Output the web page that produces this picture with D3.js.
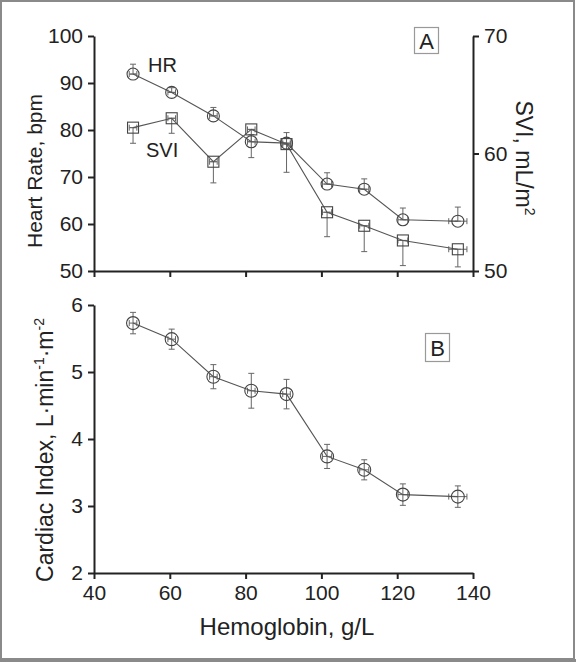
<!DOCTYPE html>
<html><head><meta charset="utf-8">
<script src="https://cdn.jsdelivr.net/npm/d3@7"></script>
<style>
html,body{margin:0;padding:0;background:#fff;}
svg{display:block;}
text{font-family:"Liberation Sans",Arial,Helvetica,sans-serif;fill:#222;}
</style></head>
<body>
<script>
// ---- data ----
const hemoglobin = [50.3, 60.5, 71.5, 81.5, 90.8, 101.5, 111.3, 121.5, 136];
const hemoglobinErr = [1, 1, 1, 1, 1, 1.2, 1.2, 1.3, 2.4];
const heartRate = [91.9, 88.0, 83.0, 77.5, 77.2, 68.5, 67.4, 60.9, 60.6];
const heartRateErr = [2.1, 1.0, 1.8, 1.5, 2.25, 2.4, 2.2, 2.5, 3.0];
const svi = [62.2, 63.0, 59.3, 62.05, 60.8, 55.0, 53.85, 52.6, 51.85];
const sviErr = [1.33, 1.28, 1.8, 2.4, 2.4, 2.08, 2.2, 2.14, 1.5];
const cardiacIndex = [5.73, 5.49, 4.93, 4.72, 4.67, 3.74, 3.54, 3.17, 3.14];
const cardiacIndexErr = [0.16, 0.15, 0.18, 0.26, 0.22, 0.18, 0.15, 0.16, 0.16];
const xTicks = [40, 60, 80, 100, 120, 140];
const hrTicks = [50, 60, 70, 80, 90, 100];
const sviTicks = [50, 60, 70];
const ciTicks = [2, 3, 4, 5, 6];

const W = 576, H = 662;
const svg = d3.select("body").append("svg").attr("width", W).attr("height", H);

// frame
svg.append("rect").attr("x",1).attr("y",1).attr("width",573).attr("height",658)
  .attr("fill","none").attr("stroke","#8a8a8a").attr("stroke-width",2);
svg.append("line").attr("x1",0).attr("x2",576).attr("y1",660.5).attr("y2",660.5)
  .attr("stroke","#8a8a8a").attr("stroke-width",3);

const x = d3.scaleLinear().domain([40,140]).range([94,473]);
const yHR = d3.scaleLinear().domain([50,100]).range([271,36]);
const ySVI = d3.scaleLinear().domain([50,70]).range([271,36]);
const yCI = d3.scaleLinear().domain([2,6]).range([573,305]);
const fmt = d3.format("d");

function styleAxis(g, fs){
  g.select(".domain").attr("stroke","#222").attr("stroke-width",2);
  g.selectAll(".tick line").attr("stroke","#222").attr("stroke-width",2);
  g.selectAll(".tick text").attr("font-size",fs).attr("fill","#222")
    .attr("font-family","'Liberation Sans',Arial,sans-serif");
}

// ---- Panel A axes ----
const gA = svg.append("g");
gA.append("g").attr("transform","translate(94,0)")
  .call(d3.axisLeft(yHR).tickValues(hrTicks).tickFormat(fmt).tickSize(6).tickPadding(5).tickSizeOuter(0))
  .call(g=>styleAxis(g,21));
gA.append("g").attr("transform","translate(473,0)")
  .call(d3.axisRight(ySVI).tickValues(sviTicks).tickFormat(fmt).tickSize(6).tickPadding(5).tickSizeOuter(0))
  .call(g=>styleAxis(g,21));
gA.append("g").attr("transform","translate(0,271)")
  .call(d3.axisBottom(x).tickValues(xTicks).tickSize(6).tickFormat("").tickSizeOuter(0))
  .call(g=>styleAxis(g,21));

// ---- Panel B axes ----
const gB = svg.append("g");
gB.append("g").attr("transform","translate(94,0)")
  .call(d3.axisLeft(yCI).tickValues(ciTicks).tickFormat(fmt).tickSize(6).tickPadding(5).tickSizeOuter(0))
  .call(g=>styleAxis(g,21));
gB.append("g").attr("transform","translate(0,573)")
  .call(d3.axisBottom(x).tickValues(xTicks).tickFormat(fmt).tickSize(6).tickPadding(6).tickSizeOuter(0))
  .call(g=>styleAxis(g,21));

// ---- helpers ----
const lineColor = "#555", markColor = "#444", errColor = "#666";
const idx = d3.range(hemoglobin.length);

function errV(g, xs, y, lo, hi, cap){
  idx.forEach(i=>{
    const cx = x(xs[i]);
    const y1 = y(lo[i]), y2 = y(hi[i]);
    g.append("line").attr("x1",cx).attr("x2",cx).attr("y1",y1).attr("y2",y2)
      .attr("stroke",errColor).attr("stroke-width",1);
    [y1,y2].forEach(yy=>{
      g.append("line").attr("x1",cx-cap).attr("x2",cx+cap).attr("y1",yy).attr("y2",yy)
        .attr("stroke",errColor).attr("stroke-width",1);
    });
  });
}
function errH(g, yv, y, cap){
  idx.forEach(i=>{
    const cy = y(yv[i]);
    const x1 = x(hemoglobin[i]-hemoglobinErr[i]), x2 = x(hemoglobin[i]+hemoglobinErr[i]);
    g.append("line").attr("x1",x1).attr("x2",x2).attr("y1",cy).attr("y2",cy)
      .attr("stroke",errColor).attr("stroke-width",1);
    [x1,x2].forEach(xx=>g.append("line").attr("x1",xx).attr("x2",xx).attr("y1",cy-cap).attr("y2",cy+cap)
      .attr("stroke",errColor).attr("stroke-width",1));
  });
}
function series(g, yv, y){
  g.append("path").datum(idx)
    .attr("d", d3.line().x(i=>x(hemoglobin[i])).y(i=>y(yv[i])))
    .attr("fill","none").attr("stroke",lineColor).attr("stroke-width",1.1);
}

// ---- Panel A data ----
const dA = svg.append("g");
errV(dA, hemoglobin, yHR, heartRate, heartRate.map((v,i)=>v+heartRateErr[i]), 3);
errV(dA, hemoglobin, ySVI, svi, svi.map((v,i)=>v-sviErr[i]), 3);
errH(dA, heartRate, yHR, 3);
errH(dA, svi, ySVI, 3);
series(dA, heartRate, yHR);
series(dA, svi, ySVI);
dA.selectAll("circle.hr").data(idx).join("circle")
  .attr("cx",i=>x(hemoglobin[i])).attr("cy",i=>yHR(heartRate[i])).attr("r",6)
  .attr("fill","none").attr("stroke",markColor).attr("stroke-width",1.1);
dA.selectAll("rect.svi").data(idx).join("rect")
  .attr("x",i=>x(hemoglobin[i])-5.5).attr("y",i=>ySVI(svi[i])-5.5)
  .attr("width",11).attr("height",11)
  .attr("fill","none").attr("stroke",markColor).attr("stroke-width",1.1);

svg.append("text").attr("x",148).attr("y",72).attr("font-size",20).text("HR");
svg.append("text").attr("x",146).attr("y",157).attr("font-size",20).text("SVI");

svg.append("rect").attr("x",414.5).attr("y",27.5).attr("width",24).attr("height",26)
  .attr("fill","#fff").attr("stroke","#999").attr("stroke-width",1.2);
svg.append("text").attr("x",426.5).attr("y",49).attr("text-anchor","middle").attr("font-size",22).text("A");

// ---- Panel B data ----
const dB = svg.append("g");
errV(dB, hemoglobin, yCI, cardiacIndex.map((v,i)=>v-cardiacIndexErr[i]), cardiacIndex.map((v,i)=>v+cardiacIndexErr[i]), 3);
errH(dB, cardiacIndex, yCI, 3);
series(dB, cardiacIndex, yCI);
dB.selectAll("circle").data(idx).join("circle")
  .attr("cx",i=>x(hemoglobin[i])).attr("cy",i=>yCI(cardiacIndex[i])).attr("r",6.5)
  .attr("fill","none").attr("stroke",markColor).attr("stroke-width",1.1);

svg.append("rect").attr("x",425.5).attr("y",333.5).attr("width",24).attr("height",28)
  .attr("fill","#fff").attr("stroke","#999").attr("stroke-width",1.2);
svg.append("text").attr("x",437.5).attr("y",356).attr("text-anchor","middle").attr("font-size",22).text("B");

// ---- axis titles ----
svg.append("text").attr("transform","translate(42,171) rotate(-90)")
  .attr("text-anchor","middle").attr("font-size",21).text("Heart Rate, bpm");
const ci = svg.append("text").attr("transform","translate(53,450) rotate(-90)")
  .attr("text-anchor","middle").attr("font-size",23);
ci.append("tspan").text("Cardiac Index, L·min");
ci.append("tspan").attr("font-size",14).attr("dy",-9).text("-1");
ci.append("tspan").attr("dy",9).text("·m");
ci.append("tspan").attr("font-size",14).attr("dy",-9).text("-2");
const sv = svg.append("text").attr("transform","translate(516,158) rotate(90)")
  .attr("text-anchor","middle").attr("font-size",23);
sv.append("tspan").text("SVI, mL/m");
sv.append("tspan").attr("font-size",14).attr("dy",-9).text("2");
svg.append("text").attr("x",287).attr("y",635).attr("text-anchor","middle")
  .attr("font-size",24).text("Hemoglobin, g/L");
</script>
</body></html>
